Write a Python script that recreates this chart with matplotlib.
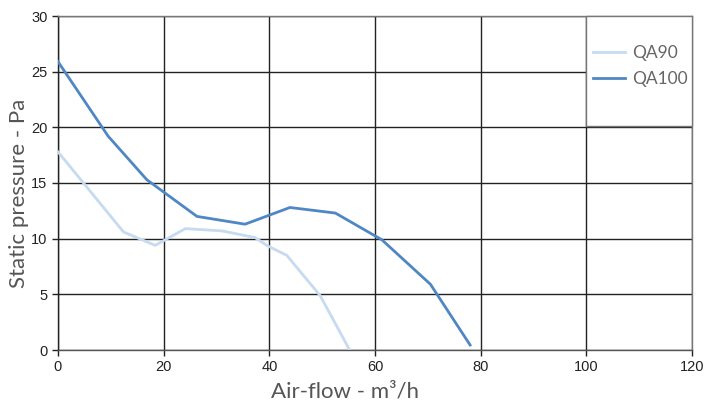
import matplotlib
matplotlib.use('Agg')
import matplotlib.pyplot as plt
from matplotlib.patches import Rectangle

plt.rcParams['font.family'] = ['Liberation Sans', 'DejaVu Sans']

# QA90 curve
qa90_flow = [0.0, 12.4, 18.4, 24.1, 31.0, 37.3, 39.5, 43.3, 49.6, 55.2]
qa90_pressure = [17.8, 10.6, 9.4, 10.9, 10.7, 10.1, 9.4, 8.5, 4.9, 0.0]

# QA100 curve
qa100_flow = [0.0, 9.5, 16.8, 26.3, 35.4, 43.9, 52.5, 61.3, 70.5, 78.0]
qa100_pressure = [25.9, 19.2, 15.3, 12.0, 11.3, 12.8, 12.3, 9.9, 5.9, 0.45]

x_ticks = [0, 20, 40, 60, 80, 100, 120]
y_ticks = [0, 5, 10, 15, 20, 25, 30]

thin = dict(family=['Lato', 'Liberation Sans'], color='#555555')

fig = plt.figure(figsize=(7.05, 4.07), dpi=100)
ax = fig.add_axes([58 / 705, 57 / 407, 634 / 705, 334 / 407])

ax.plot(qa90_flow, qa90_pressure, color='#c6daf0', lw=2, label='QA90', zorder=3)
ax.plot(qa100_flow, qa100_pressure, color='#4f87c4', lw=2, label='QA100', zorder=3)

ax.set_xlim(0, 120)
ax.set_ylim(0, 30)
ax.set_xticks(x_ticks)
ax.set_yticks(y_ticks)
ax.grid(True, color='#222222', lw=1)
ax.set_axisbelow(True)
for side, sp in ax.spines.items():
    sp.set_color('#777777')
    sp.set_linewidth(1)
ax.spines['left'].set_color('#222222')
ax.spines['bottom'].set_color('#555555')
ax.tick_params(axis='both', labelsize=10.5, colors='#222222', length=4, width=1)

ax.set_xlabel('Air-flow - m\u00b3/h', fontsize=16, **thin)
ax.set_ylabel('Static pressure - Pa', fontsize=16, **thin)
ax.xaxis.set_label_coords(0.453, -0.095)
ax.yaxis.set_label_coords(-0.046, 0.47)

# legend box
ax.add_patch(Rectangle((0.833, 0.671), 0.167, 0.329, transform=ax.transAxes,
                       facecolor='white', edgecolor='#777777', lw=1, zorder=4,
                       clip_on=False))
leg = ax.legend(loc='upper left', bbox_to_anchor=(0.8335, 0.935), frameon=False,
                prop=dict(family=['Lato', 'Liberation Sans'], size=12.5),
                handlelength=1.8, handletextpad=0.45,
                labelspacing=0.6, borderaxespad=0)
leg.set_zorder(5)
for t in leg.get_texts():
    t.set_color('#666666')

fig.savefig('out.png', dpi=100)
